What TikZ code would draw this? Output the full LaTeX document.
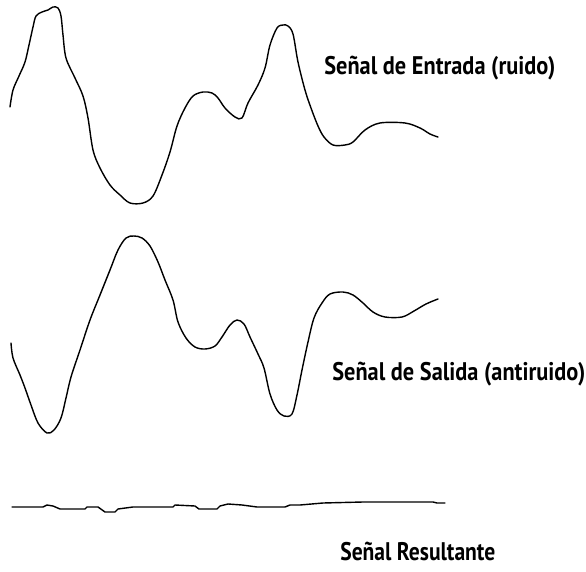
\documentclass[tikz,border=0pt]{standalone}
\usepackage{fontspec}
\setmainfont{PT Sans}
\usepackage{tikz}

\newcommand{\etiq}[2]{\resizebox{#1}{\height}{\fontsize{14.5}{17}\selectfont\bfseries #2}}

\tikzset{
    onda/.style={line width=0.8pt, line join=round, line cap=round},
    rotulo/.style={inner sep=0pt, anchor=base west}
}

\begin{document}
\begin{tikzpicture}[x=0.02cm, y=-0.02cm]
        %frame
            \useasboundingbox (0,0) rectangle (586,572);
        % noise
            \draw[onda] plot[smooth, tension=0.55] coordinates {(10,107) (13,90) (19,76) (25,62) (29,45) (33,27) (36,16) (42,12) (48,10) (53,7) (58,8) (61,16) (63,35) (66,58) (75,78) (83,96) (88,118) (93,150) (100,168) (110,185) (120,195) (130,203) (143,203) (153,196) (162,175) (170,152) (177,126) (185,108) (193,96) (203,92) (212,93) (218,98) (225,108) (235,117) (242,118) (248,103) (258,85) (265,68) (270,45) (277,28) (283,25) (288,26) (293,34) (298,62) (305,90) (311,108) (318,126) (324,137) (333,145) (345,145) (353,142) (365,130) (380,123) (405,123) (420,128) (430,134) (438,137)};
        % antinoise
            \draw[onda] plot[smooth, tension=0.55] coordinates {(11,343) (13,358) (20,375) (25,388) (31,405) (38,423) (47,433) (54,430) (61,418) (66,398) (71,377) (80,350) (90,320) (100,295) (110,270) (118,250) (126,238) (134,236) (142,238) (150,246) (158,262) (165,280) (173,300) (178,322) (186,338) (195,347) (205,349) (215,346) (222,337) (230,325) (237,320) (244,324) (250,337) (258,354) (264,368) (270,394) (277,410) (284,416) (292,414) (297,395) (302,370) (308,342) (314,318) (322,303) (330,294) (343,292) (353,295) (363,303) (373,312) (385,317) (402,317) (414,311) (426,304) (438,299)};
        % result
            \draw[onda] (12,507) -- (43,507) -- (47,505) -- (53,506) -- (60,509) -- (85,509) -- (87,507) -- (98,507) -- (105,512) -- (115,512) -- (118,509) -- (133,507) -- (173,507) -- (175,505) -- (195,506) -- (199,509) -- (217,509) -- (220,506) -- (228,504) -- (242,505) -- (257,507) -- (285,507) -- (290,505) -- (300,505) -- (323,503) -- (363,502) -- (433,502) -- (437,503) -- (445,503);
        %nodes
            \node[rotulo] (entrada) at (324,74) {\etiq{4.62cm}{Señal de Entrada (ruido)}};
            \node[rotulo] (salida) at (332,380) {\etiq{5.06cm}{Señal de Salida (antiruido)}};
            \node[rotulo] (resultante) at (340,560) {\etiq{3.1cm}{Señal Resultante}};
    \end{tikzpicture}
\end{document}
